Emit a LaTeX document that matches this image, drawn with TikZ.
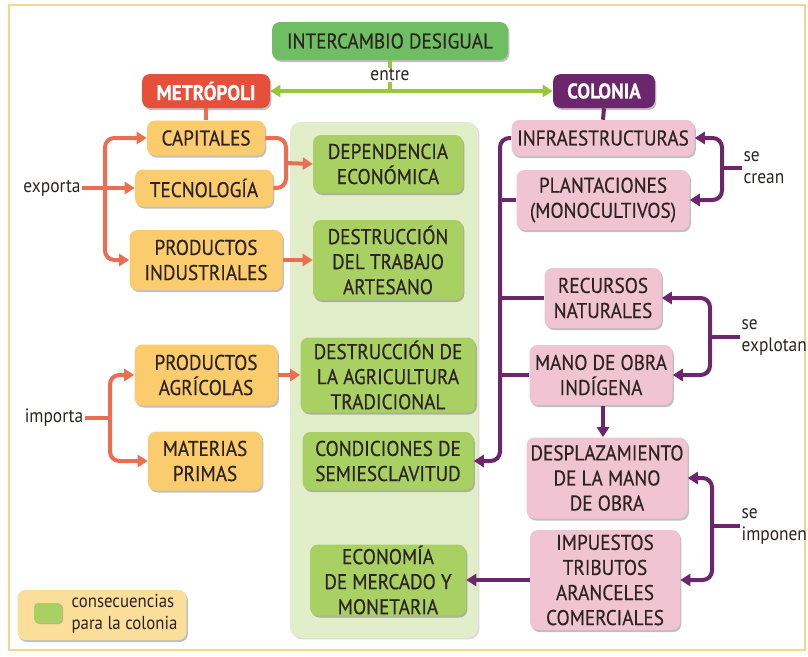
\documentclass[tikz,border=0pt]{standalone}
\usepackage{fontspec}
\setmainfont{PT Sans}[FakeStretch=0.9]
\newfontfamily\heavyfam{PT Sans}[FakeStretch=0.9, FakeBold=0.4]
\usetikzlibrary{arrows.meta,shadows}
\definecolor{frame}{RGB}{245,214,140}
\definecolor{ylw}{RGB}{250,204,110}
\definecolor{grn}{RGB}{168,208,98}
\definecolor{grndark}{RGB}{112,190,100}
\definecolor{panelc}{RGB}{226,238,202}
\definecolor{pnk}{RGB}{240,196,210}
\definecolor{redc}{RGB}{230,80,58}
\definecolor{purp}{RGB}{108,38,108}
\definecolor{orng}{RGB}{236,110,82}
\definecolor{lgrn}{RGB}{150,200,60}
\definecolor{legc}{RGB}{250,222,154}
\definecolor{txt}{RGB}{45,35,35}
\newcommand{\boxfont}{\heavyfam\fontsize{16}{18.8}\selectfont}
\newcommand{\smallfont}{\fontsize{14.5}{16.5}\selectfont}
\begin{document}
\begin{tikzpicture}[x=0.75pt,y=-0.75pt,
  box/.style={rounded corners=6pt, align=center, inner sep=0pt, font=\boxfont, text=txt,
    drop shadow={shadow xshift=1pt, shadow yshift=-1.5pt, opacity=0.25, fill=black}},
  wh/.style 2 args={minimum width=#1*0.75pt, minimum height=#2*0.75pt},
  yb/.style={box, fill=ylw},
  gb/.style={box, fill=grn},
  pb/.style={box, fill=pnk},
  lbl/.style={font=\smallfont, text=txt, align=left, inner sep=1pt},
  oline/.style={draw=orng, line width=3pt, rounded corners=7pt},
  oarrow/.style={oline, -{Triangle[length=7.5pt,width=9pt]}},
  pline/.style={draw=purp, line width=3pt, rounded corners=7pt},
  parrow/.style={pline, -{Triangle[length=7.5pt,width=9pt]}},
]
\useasboundingbox (0,0) rectangle (808,657);
\draw[frame, line width=1.2pt] (9,5) rectangle (805,650);

% panel
\node[fill=panelc, rounded corners=8pt, wh={188}{516},
  drop shadow={shadow xshift=1pt, shadow yshift=-1pt, opacity=0.15, fill=black}] (panel) at (384,380) {};

% top
\node[box, fill=grndark, wh={236}{38}] (inter) at (390,41) {INTERCAMBIO DESIGUAL};
\node[box, fill=redc, wh={128}{34}, text=white, font=\boxfont\bfseries] (metro) at (206,91) {METRÓPOLI};
\node[box, fill=purp, wh={102}{34}, text=white, font=\boxfont\bfseries] (colonia) at (604,91) {COLONIA};
\coordinate (mid) at (390,91);
\draw[lgrn, line width=3pt] (inter.south) -- (mid);
\draw[lgrn, line width=3pt, {Triangle[length=7.5pt,width=9pt]}-{Triangle[length=7.5pt,width=9pt]}] (metro.east) -- (colonia.west);
\node[lbl, fill=white, inner sep=0.5pt] (entre) at (390,75) {entre};

% left boxes
\node[yb, wh={118}{35}] (cap) at (206,138) {CAPITALES};
\node[yb, wh={138}{37}] (tec) at (204,188) {TECNOLOGÍA};
\node[yb, wh={153}{60}] (prodind) at (206,260) {PRODUCTOS\\INDUSTRIALES};
\node[yb, wh={143}{61}] (prodagr) at (206,375) {PRODUCTOS\\AGRÍCOLAS};
\node[yb, wh={114}{59}] (mat) at (205,461) {MATERIAS\\PRIMAS};
\draw[orng, line width=3pt] (metro.south) -- (cap.north);

% green consequences
\node[gb, wh={150}{58}] (dep) at (388,164) {DEPENDENCIA\\ECONÓMICA};
\node[gb, wh={150}{80}] (destrab) at (388,260) {DESTRUCCIÓN\\DEL TRABAJO\\ARTESANO};
\node[gb, wh={175}{75}] (destagr) at (388,375) {DESTRUCCIÓN DE\\LA AGRICULTURA\\TRADICIONAL};
\node[gb, wh={171}{58}] (cond) at (388,461) {CONDICIONES DE\\SEMIESCLAVITUD};
\node[gb, wh={156}{71}] (eco) at (388,580) {ECONOMÍA\\DE MERCADO Y\\MONETARIA};

% right boxes
\node[pb, wh={183}{36}] (infra) at (603,138) {INFRAESTRUCTURAS};
\node[pb, wh={173}{60}] (plant) at (603,200) {PLANTACIONES\\(MONOCULTIVOS)};
\node[pb, wh={117}{60}] (rec) at (603,298) {RECURSOS\\NATURALES};
\node[pb, wh={143}{60}] (mano) at (601,375) {MANO DE OBRA\\INDÍGENA};
\node[pb, wh={161}{81}] (desp) at (607,478) {DESPLAZAMIENTO\\DE LA MANO\\DE OBRA};
\node[pb, wh={150}{100}] (imp) at (605,580) {IMPUESTOS\\TRIBUTOS\\ARANCELES\\COMERCIALES};
\draw[purp, line width=3pt] (colonia.south) -- (infra.north);

% exporta
\node[lbl] (exporta) at (52,188) {exporta};
\coordinate (ex) at (105,188);
\draw[oline] (exporta.east) -- (ex);
\draw[oarrow] (ex) |- (cap.west);
\draw[oarrow] (ex) -- (tec.west);
\draw[oarrow] (ex) |- (prodind.west);
\coordinate (cm) at (286,163);
\draw[oline] (cap.east) -| (cm) |- (tec.east);
\draw[oarrow] (cm) -- (dep.west);
\draw[oarrow] (prodind.east) -- (destrab.west);

% importa
\node[lbl] (importa) at (54,418) {importa};
\coordinate (im) at (110,418);
\draw[oline] (importa.east) -- (im);
\draw[oarrow] (im) |- (prodagr.west);
\draw[oarrow] (im) |- (mat.west);
\draw[oarrow] (prodagr.east) -- (destagr.west);

% colonia trunk
\coordinate (pbot) at (500,461);
\draw[parrow] (infra.west) -| (pbot) -- (cond.east);
\draw[pline] (plant.west) -- (plant.west -| pbot);
\draw[pline] (rec.west) -- (rec.west -| pbot);
\draw[pline] (mano.west) -- (mano.west -| pbot);
\coordinate (mb) at (603,406);
\draw[parrow] (mb) -- (mb |- desp.north);
\draw[parrow] (imp.west) -- (eco.east);

% se crean
\node[lbl, anchor=west] (crean) at (742,168) {se\\crean};
\coordinate (sc) at (722,168);
\draw[pline] (crean.west) -- (sc);
\draw[parrow] (sc) |- (infra.east);
\draw[parrow] (sc) |- (plant.east);

% se explotan
\node[lbl, anchor=west] (explotan) at (740,337) {se\\explotan};
\coordinate (se) at (710,337);
\draw[pline] (explotan.west) -- (se);
\draw[parrow] (se) |- (rec.east);
\draw[parrow] (se) |- (mano.east);

% se imponen
\node[lbl, anchor=west] (imponen) at (740,526) {se\\imponen};
\coordinate (si) at (712,526);
\draw[pline] (imponen.west) -- (si);
\draw[parrow] (si) |- (desp.east);
\draw[parrow] (si) |- (imp.east);

% legend
\node[box, fill=legc, wh={169}{50}] (legend) at (102,615) {};
\node[fill=grn, rounded corners=3pt, wh={28}{20},
  drop shadow={shadow xshift=0.8pt, shadow yshift=-0.8pt, opacity=0.2, fill=black}] (legsq) at (48,613) {};
\node[lbl, anchor=west, font=\fontsize{14}{16.5}\selectfont] (legtext) at (70,614) {consecuencias\\para la colonia};
\end{tikzpicture}
\end{document}
